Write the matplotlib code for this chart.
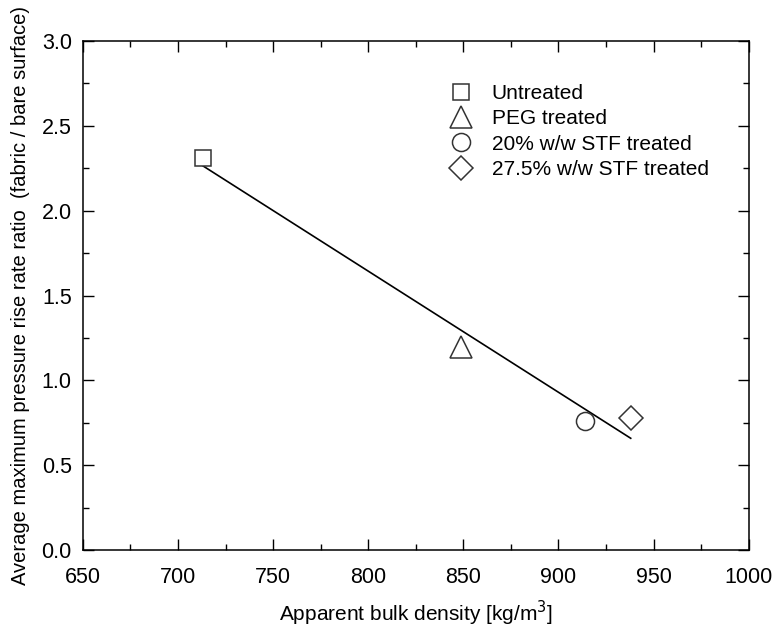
import numpy as np
import matplotlib
matplotlib.use("Agg")
import matplotlib.pyplot as plt
from matplotlib.ticker import MultipleLocator

plt.rcParams['font.family'] = ['Liberation Sans', 'DejaVu Sans']

labels = ["Untreated", "PEG treated", "20% w/w STF treated", "27.5% w/w STF treated"]
density = [713, 849, 914, 938]
ratio = [2.31, 1.20, 0.76, 0.78]
markers = ["s", "^", "o", "D"]
msizes = [12, 16, 13, 12.5]

fig = plt.figure(figsize=(7.75, 6.31), dpi=100)
ax = fig.add_axes([0.107, 0.128, 0.859, 0.807])

slope, intercept = np.polyfit(density, ratio, 1)
xf = np.array([density[0], density[-1]])
ax.plot(xf, slope * xf + intercept, color='black', lw=1.2, zorder=2)

for x, y, m, s, lab in zip(density, ratio, markers, msizes, labels):
    ax.plot([x], [y], linestyle='none', marker=m, markersize=s, mfc='white',
            mec='#333333', mew=1.1, label=lab, zorder=3)

ax.set_xlim(650, 1000)
ax.set_ylim(0, 3.0)
ax.xaxis.set_major_locator(MultipleLocator(50))
ax.xaxis.set_minor_locator(MultipleLocator(25))
ax.yaxis.set_major_locator(MultipleLocator(0.5))
ax.yaxis.set_minor_locator(MultipleLocator(0.25))
ax.yaxis.set_major_formatter(matplotlib.ticker.FormatStrFormatter('%.1f'))
ax.tick_params(which='both', direction='in', top=True, right=True,
               labelsize=15.5, colors='black')
ax.tick_params(axis='y', pad=8)
ax.tick_params(axis='x', pad=12)
ax.tick_params(which='major', length=8, width=1)
ax.tick_params(which='minor', length=4.5, width=1)
for sp in ax.spines.values():
    sp.set_linewidth(1.1)

ax.set_xlabel("Apparent bulk density [kg/m$^3$]", fontsize=15, labelpad=8)
ax.set_ylabel("Average maximum pressure rise rate ratio  (fabric / bare surface)",
              fontsize=14.5, labelpad=8)

leg = ax.legend(loc='upper left', bbox_to_anchor=(0.5215, 0.952), frameon=False,
                fontsize=15, handletextpad=0.85, labelspacing=0.3,
                handlelength=1.2)

fig.savefig("out.png", dpi=100)
